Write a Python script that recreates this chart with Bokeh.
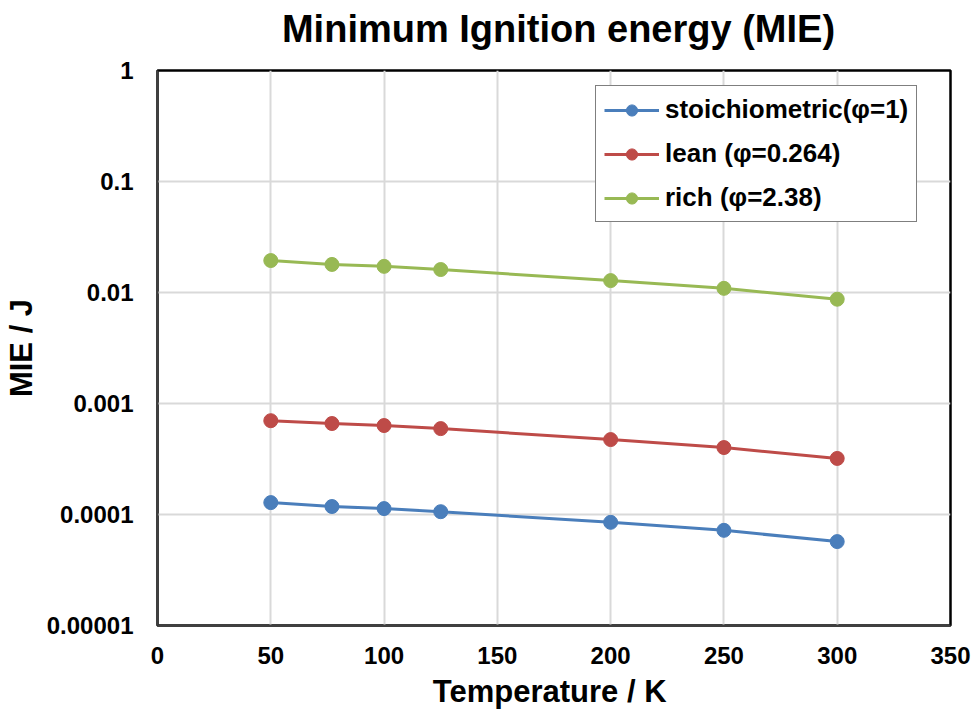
from bokeh.plotting import figure
from bokeh.models import FixedTicker, Legend, LegendItem, Label
from bokeh.embed import file_html
from bokeh.resources import INLINE

temperature = [50, 77, 100, 125, 200, 250, 300]
mie_stoich = [1.28e-4, 1.18e-4, 1.13e-4, 1.06e-4, 8.5e-5, 7.2e-5, 5.7e-5]
mie_lean = [7.0e-4, 6.6e-4, 6.33e-4, 5.94e-4, 4.73e-4, 4.01e-4, 3.2e-4]
mie_rich = [1.94e-2, 1.79e-2, 1.72e-2, 1.61e-2, 1.28e-2, 1.09e-2, 8.7e-3]

series_names = ["stoichiometric(\u03c6=1)", "lean (\u03c6=0.264)", "rich (\u03c6=2.38)"]
series_colors = ["#4A7EBB", "#BE4B48", "#98B954"]

x_ticks = [0, 50, 100, 150, 200, 250, 300, 350]
y_ticks = [1e-5, 1e-4, 1e-3, 1e-2, 1e-1, 1.0]
y_tick_labels = ["0.00001", "0.0001", "0.001", "0.01", "0.1", "1"]

title_text = "Minimum Ignition energy (MIE)"

FONT = "Liberation Sans"

p = figure(width=976, height=712, output_backend="svg", toolbar_location=None,
           x_range=(0, 350), y_range=(1e-5, 1), y_axis_type="log",
           min_border_left=157, min_border_right=26, min_border_top=70, min_border_bottom=87)

p.outline_line_color = "#000000"
p.outline_line_width = 2.5
p.background_fill_color = "white"
p.border_fill_color = "white"

p.xaxis.ticker = FixedTicker(ticks=x_ticks)
p.yaxis.ticker = FixedTicker(ticks=y_ticks)
p.yaxis.major_label_overrides = {t: l for t, l in zip(y_ticks, y_tick_labels)}

for ax in (p.xaxis, p.yaxis):
    ax.major_tick_line_color = None
    ax.minor_tick_line_color = None
    ax.axis_line_color = "#404040"
    ax.axis_line_width = 2
    ax.major_label_text_font = FONT
    ax.major_label_text_font_size = "24px"
    ax.major_label_text_font_style = "bold"
    ax.major_label_text_color = "#000000"
    ax.axis_label_text_font = FONT
    ax.axis_label_text_font_size = "31px"
    ax.axis_label_text_font_style = "bold"
    ax.axis_label_text_color = "#000000"

p.xaxis.axis_label = "Temperature  / K"
p.yaxis.axis_label = "MIE / J"
p.xaxis.major_label_standoff = 15
p.yaxis.major_label_standoff = 18
p.xaxis.axis_label_standoff = 7
p.yaxis.axis_label_standoff = 5

p.xgrid.grid_line_color = "#d9d9d9"
p.ygrid.grid_line_color = "#d9d9d9"
p.xgrid.grid_line_width = 2
p.ygrid.grid_line_width = 2

items = []
for name, ys, col in zip(series_names, [mie_stoich, mie_lean, mie_rich], series_colors):
    ln = p.line(temperature, ys, line_color=col, line_width=3)
    sc = p.scatter(temperature, ys, size=14, fill_color=col, line_color=col)
    items.append(LegendItem(label=name, renderers=[ln, sc]))

legend = Legend(items=items, location=(438, 403))
legend.label_text_font = FONT
legend.label_text_font_size = "26px"
legend.label_text_font_style = "bold"
legend.label_text_color = "#000000"
legend.border_line_color = "#000000"
legend.border_line_width = 1.5
legend.glyph_width = 55
legend.glyph_height = 28
legend.label_height = 28
legend.spacing = 13
legend.padding = 8
legend.margin = 0
legend.label_standoff = 6
legend.background_fill_alpha = 1
p.add_layout(legend, "center")

title = Label(x=401, y=42, x_units="screen", y_units="screen", text=title_text,
              text_font=FONT, text_font_size="38px", text_font_style="bold",
              text_color="#000000", text_align="center", text_baseline="middle")
p.add_layout(title, "above")

open("out.html", "w").write(file_html(p, INLINE))
